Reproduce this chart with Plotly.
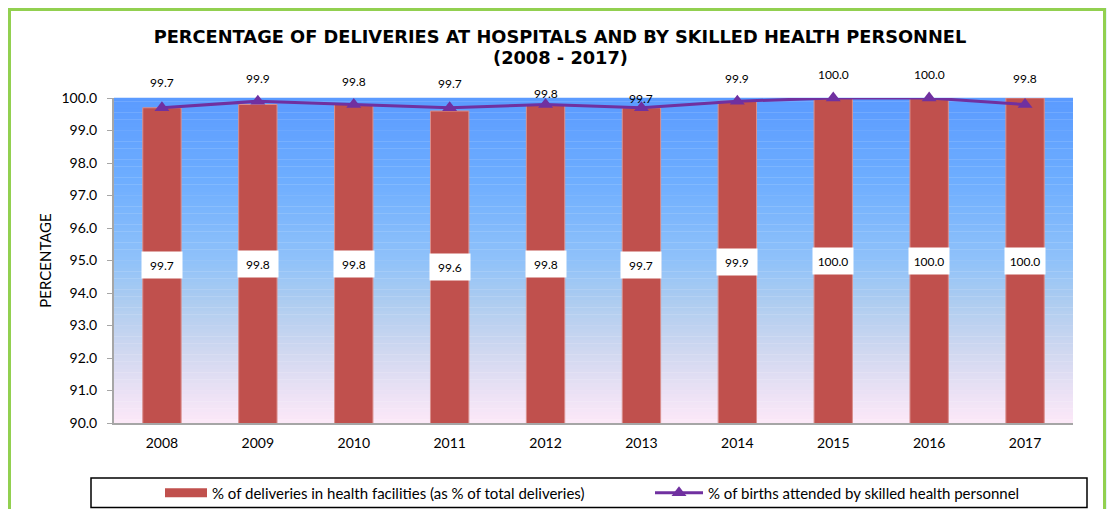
import plotly.graph_objects as go

years = ["2008", "2009", "2010", "2011", "2012", "2013", "2014", "2015", "2016", "2017"]
facility_pct = [99.7, 99.8, 99.8, 99.6, 99.8, 99.7, 99.9, 100.0, 100.0, 100.0]
skilled_pct = [99.7, 99.9, 99.8, 99.7, 99.8, 99.7, 99.9, 100.0, 100.0, 99.8]
y_ticks = [90, 91, 92, 93, 94, 95, 96, 97, 98, 99, 100]

# label offsets (px) above line points, as placed in the original
line_label_shift = [25, 23, 23, 24, 11, 9, 23, 24, 24, 26]

FONT = "Lato, 'Gill Sans', 'Open Sans', sans-serif"
TFONT = "'DejaVu Sans', sans-serif"
OFF = 8  # page body margin
W, H = 1099, 501
ML, MR, MT, MB = 106, 34, 90, 86
PW, PH = W - ML - MR, H - MT - MB


def px_x(px):
    return (px - OFF - ML) / PW


def px_y(py):
    return (H - MB - (py - OFF)) / PH


BAR_NAME = "% of deliveries in health facilities (as % of total deliveries)"
LINE_NAME = "% of births attended by skilled health personnel"

fig = go.Figure()
fig.add_trace(go.Bar(
    x=years, y=facility_pct, width=0.4,
    marker=dict(color="#c0504d", line=dict(color="#d98f8d", width=1)),
    name=BAR_NAME, showlegend=False,
))
# legend-only entry with a wide swatch like the original
fig.add_trace(go.Scatter(
    x=[None], y=[None], mode="lines", line=dict(color="#c0504d", width=9),
    name=BAR_NAME, legend="legend",
))
fig.add_trace(go.Scatter(
    x=years, y=skilled_pct, mode="lines+markers", cliponaxis=False,
    line=dict(color="#7030a0", width=3),
    marker=dict(symbol="triangle-up", size=13, color="#7030a0"),
    name=LINE_NAME, legend="legend2",
))

shapes = []
# outer frame
shapes.append(dict(type="rect", xref="paper", yref="paper", layer="below",
                   x0=px_x(9.5), x1=px_x(1104.5), y0=px_y(9.5), y1=px_y(540),
                   fillcolor="white", line=dict(color="#92d050", width=3)))


def hex2rgb(h):
    h = h.lstrip("#")
    return tuple(int(h[i:i + 2], 16) for i in (0, 2, 4))


stops = [(0.0, "#5b9bff"), (0.25, "#6eaeff"), (0.5, "#90c2fa"), (0.63, "#aecdf0"),
         (0.78, "#d0d8f0"), (0.92, "#eee3f6"), (1.0, "#fce9f8")]


def grad(t):
    for (a, ca), (b, cb) in zip(stops[:-1], stops[1:]):
        if a <= t <= b:
            f = (t - a) / (b - a)
            r1, g1, b1 = hex2rgb(ca)
            r2, g2, b2 = hex2rgb(cb)
            return "rgb(%d,%d,%d)" % (r1 + (r2 - r1) * f, g1 + (g2 - g1) * f, b1 + (b2 - b1) * f)
    return stops[-1][1]


N = 90
for i in range(N):
    t = (i + 0.5) / N
    shapes.append(dict(type="rect", xref="paper", yref="paper", layer="below",
                       x0=0, x1=1, y0=1 - (i + 1) / N - 0.0005, y1=1 - i / N + 0.0005,
                       fillcolor=grad(t), line=dict(width=0)))
# legend box
shapes.append(dict(type="rect", xref="paper", yref="paper",
                   x0=px_x(91), x1=px_x(1087), y0=px_y(507.5), y1=px_y(478),
                   line=dict(color="black", width=1.5)))

annotations = []
for i, v in enumerate(facility_pct):
    annotations.append(dict(x=i, y=(90 + v) / 2, text="%.1f" % v, showarrow=False,
                            bgcolor="white", width=38, height=24,
                            font=dict(family=FONT, size=12, color="black")))
for i, (v, s) in enumerate(zip(skilled_pct, line_label_shift)):
    annotations.append(dict(x=i, y=v, text="%.1f" % v, showarrow=False, yshift=s,
                            font=dict(family=FONT, size=12, color="black")))
annotations.append(dict(xref="paper", yref="paper", x=px_x(560), y=px_y(57),
                        text="<b>(2008 - 2017)</b>", showarrow=False,
                        xanchor="center", yanchor="middle",
                        font=dict(family=TFONT, size=17.8, color="black")))

fig.update_layout(
    width=W, height=H,
    margin=dict(l=ML, r=MR, t=MT, b=MB, autoexpand=False),
    paper_bgcolor="#e4f3f8", plot_bgcolor="rgba(0,0,0,0)",
    font=dict(family=FONT, size=13, color="black"),
    title=dict(text="<b>PERCENTAGE OF DELIVERIES AT HOSPITALS AND BY SKILLED HEALTH PERSONNEL</b>",
               x=(560 - OFF) / W, xanchor="center", y=1 - (37 - OFF) / H, yanchor="middle",
               font=dict(family=TFONT, size=17.8, color="black")),
    showlegend=True,
    legend=dict(orientation="h", x=px_x(160), xanchor="left", y=px_y(493), yanchor="middle",
                font=dict(family=FONT, size=15, color="black"),
                itemwidth=42, bgcolor="rgba(0,0,0,0)"),
    legend2=dict(orientation="h", x=px_x(650), xanchor="left", y=px_y(493), yanchor="middle",
                 font=dict(family=FONT, size=15, color="black"),
                 itemwidth=48, bgcolor="rgba(0,0,0,0)"),
    xaxis=dict(type="category", range=[-0.5, len(years) - 0.5], showline=True,
               linecolor="#a6a6a6", linewidth=2, ticks="", ticklabelstandoff=6,
               tickfont=dict(family=FONT, size=14), showgrid=False),
    yaxis=dict(range=[90, 100], tickvals=y_ticks, tickformat=".1f", showline=True,
               linecolor="#a6a6a6", linewidth=2, ticks="outside", ticklen=5,
               tickcolor="#a6a6a6", showgrid=False, zeroline=False,
               ticklabelstandoff=7,
               tickfont=dict(family=FONT, size=14),
               title=dict(text="PERCENTAGE", font=dict(family=FONT, size=15), standoff=6)),
    shapes=shapes, annotations=annotations,
)

fig.write_html("out.html")
